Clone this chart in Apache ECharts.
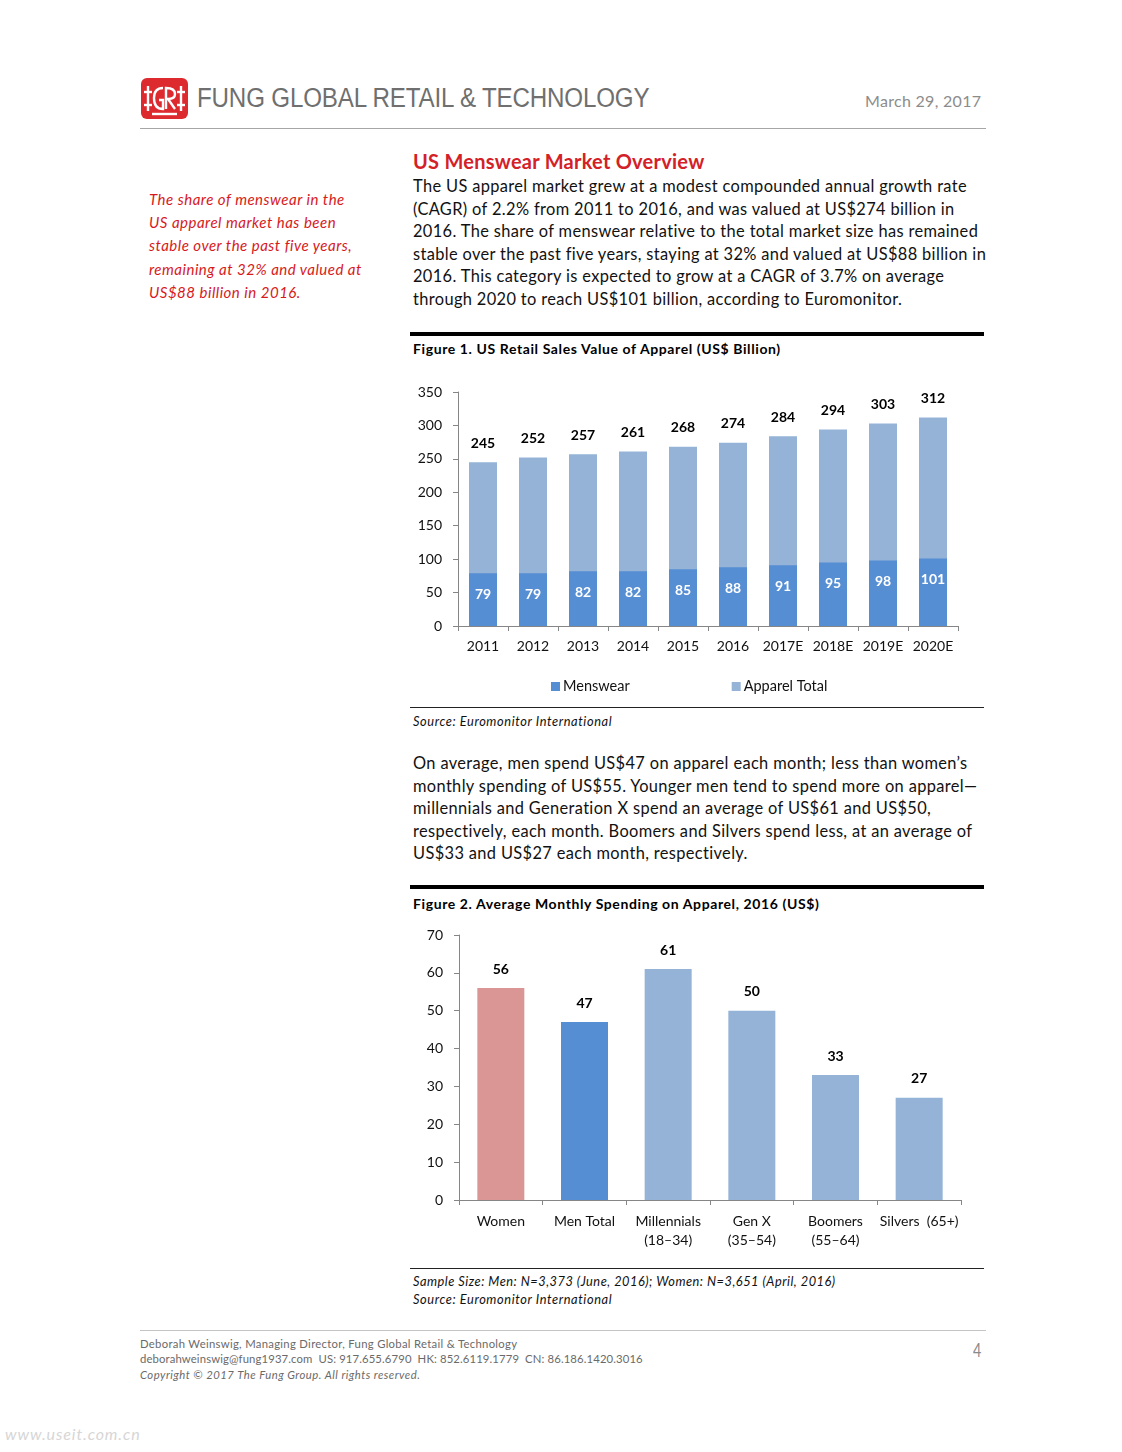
<!DOCTYPE html>
<html>
<head>
<meta charset="utf-8">
<script src="https://cdn.jsdelivr.net/npm/echarts@6/dist/echarts.min.js"></script>
<style>
  html,body{margin:0;padding:0;background:#fff;}
  body{width:1122px;height:1452px;position:relative;overflow:hidden;font-family:Lato,"Open Sans",sans-serif;color:#000;}
  .abs{position:absolute;white-space:nowrap;}
  .hdr{left:197px;top:83px;font-family:"Liberation Sans",Arial,sans-serif;font-size:27px;color:#6f6f6f;transform:scaleX(0.895);transform-origin:left top;letter-spacing:-0.2px;}
  .date{left:865px;top:91px;font-size:16px;color:#8c8c8c;letter-spacing:0.3px;}
  .rule{position:absolute;height:0;}
  .side{left:149px;top:188px;font-style:italic;font-size:15px;line-height:23.2px;color:#d7191c;letter-spacing:0.5px;}
  .h1{left:413px;top:149px;font-size:20px;font-weight:bold;color:#d42027;letter-spacing:0.25px;}
  .para{left:413px;font-size:16.4px;line-height:22.5px;color:#111;letter-spacing:0.36px;}
  .figt{left:413px;font-size:14px;font-weight:bold;color:#000;letter-spacing:0.6px;}
  .src{left:413px;font-size:12.8px;font-style:italic;color:#111;letter-spacing:0.6px;}
  .foot{left:140px;font-size:11.3px;color:#6a6a6a;}
</style>
</head>
<body>
<!-- header -->
<svg class="abs" style="left:141px;top:78px" width="47" height="41" viewBox="0 0 47 41">
  <rect x="0" y="0" width="47" height="41" rx="6" ry="6" fill="#dc2a2e"/>
  <g stroke="#fff" stroke-width="2.4" fill="none">
    <line x1="7" y1="8" x2="7" y2="33"/>
    <line x1="40" y1="8" x2="40" y2="33"/>
    <line x1="3" y1="14" x2="11" y2="14"/>
    <line x1="3" y1="27" x2="11" y2="27"/>
    <line x1="36" y1="14" x2="44" y2="14"/>
    <line x1="36" y1="27" x2="44" y2="27"/>
    <path d="M22 10 Q13 10 13 20 Q13 31 22 31 L22 22 L18 22"/>
    <path d="M25 31 L25 10 Q34 10 34 16 Q34 21 27 21 L34 31"/>
    <line x1="11" y1="36" x2="36" y2="36"/>
  </g>
</svg>
<div class="abs hdr">FUNG GLOBAL RETAIL &amp; TECHNOLOGY</div>
<div class="abs date">March 29, 2017</div>
<div class="rule" style="left:140px;top:128px;width:846px;border-top:1.5px solid #a6a6a6;"></div>

<!-- sidebar -->
<div class="abs side">The share of menswear in the<br>US apparel market has been<br>stable over the past five years,<br>remaining at 32% and valued at<br>US$88 billion in 2016.</div>

<!-- main text -->
<div class="abs h1">US Menswear Market Overview</div>
<div class="abs para" style="top:175px;">The US apparel market grew at a modest compounded annual growth rate<br>(CAGR) of 2.2% from 2011 to 2016, and was valued at US$274 billion in<br>2016. The share of menswear relative to the total market size has remained<br>stable over the past five years, staying at 32% and valued at US$88 billion in<br>2016. This category is expected to grow at a CAGR of 3.7% on average<br>through 2020 to reach US$101 billion, according to Euromonitor.</div>

<div class="rule" style="left:410px;top:332px;width:574px;border-top:4px solid #000;"></div>
<div class="abs figt" style="top:340px;">Figure 1. US Retail Sales Value of Apparel (US$ Billion)</div>
<div id="c1" class="abs" style="left:400px;top:370px;width:590px;height:330px;"></div>
<div class="rule" style="left:410px;top:707px;width:574px;border-top:1.5px solid #222;"></div>
<div class="abs src" style="top:713px;">Source: Euromonitor International</div>

<div class="abs para" style="top:752px;">On average, men spend US$47 on apparel each month; less than women’s<br>monthly spending of US$55. Younger men tend to spend more on apparel—<br>millennials and Generation X spend an average of US$61 and US$50,<br>respectively, each month. Boomers and Silvers spend less, at an average of<br>US$33 and US$27 each month, respectively.</div>

<div class="rule" style="left:410px;top:885px;width:574px;border-top:4px solid #000;"></div>
<div class="abs figt" style="top:895px;">Figure 2. Average Monthly Spending on Apparel, 2016 (US$)</div>
<div id="c2" class="abs" style="left:400px;top:915px;width:590px;height:350px;"></div>
<div class="rule" style="left:410px;top:1268px;width:574px;border-top:1.5px solid #222;"></div>
<div class="abs src" style="top:1273px;letter-spacing:0.5px;">Sample Size: Men: N=3,373 (June, 2016); Women: N=3,651 (April, 2016)</div>
<div class="abs src" style="top:1291px;">Source: Euromonitor International</div>

<!-- footer -->
<div class="rule" style="left:140px;top:1330px;width:846px;border-top:1.5px solid #c4c4c4;"></div>
<div class="abs foot" style="top:1337px;letter-spacing:0.3px;">Deborah Weinswig, Managing Director, Fung Global Retail &amp; Technology</div>
<div class="abs foot" style="top:1352px;letter-spacing:0.13px;">deborahweinswig@fung1937.com&nbsp; US: 917.655.6790&nbsp; HK: 852.6119.1779&nbsp; CN: 86.186.1420.3016</div>
<div class="abs foot" style="top:1368px;font-style:italic;letter-spacing:0.48px;">Copyright © 2017 The Fung Group. All rights reserved.</div>
<div class="abs" style="left:973px;top:1338px;font-size:19px;color:#8a8a8a;transform:scaleX(0.75);transform-origin:left top;">4</div>
<div class="abs" style="left:5px;top:1424px;font-size:16px;font-style:italic;color:#d6d6d6;letter-spacing:0.9px;">www.useit.com.cn</div>

<script>
// ---- Figure 1 data ----
var years = ['2011','2012','2013','2014','2015','2016','2017E','2018E','2019E','2020E'];
var menswear = [79, 79, 82, 82, 85, 88, 91, 95, 98, 101];
var apparelTotal = [245, 252, 257, 261, 268, 274, 284, 294, 303, 312];
var fig1Ticks = [0, 50, 100, 150, 200, 250, 300, 350];

// ---- Figure 2 data ----
var groups = ['Women', 'Men Total', 'Millennials\n(18–34)', 'Gen X\n(35–54)', 'Boomers\n(55–64)', 'Silvers  (65+)'];
var spending = [56, 47, 61, 50, 33, 27];
var fig2Ticks = [0, 10, 20, 30, 40, 50, 60, 70];

var FONT = 'Lato, "Open Sans", sans-serif';
var C_MEN = '#568ed4';
var C_TOT = '#95b3d7';
var C_WOMEN = '#d99694';
var AXIS = '#868686';

var c1 = echarts.init(document.getElementById('c1'), null, {renderer: 'canvas'});
c1.setOption({
  animation: false,
  textStyle: {fontFamily: FONT},
  grid: {left: 58, top: 22, width: 500, height: 234, containLabel: false},
  legend: {
    data: ['Menswear', 'Apparel Total'],
    left: 146, top: 304, icon: 'rect', itemWidth: 9, itemHeight: 9, itemGap: 102,
    textStyle: {fontFamily: FONT, fontSize: 14.5, color: '#111', padding: [0, 0, 0, -2]}
  },
  xAxis: {
    type: 'category', data: years,
    axisLine: {lineStyle: {color: AXIS, width: 1}},
    axisTick: {show: true, alignWithLabel: false, length: 5, lineStyle: {color: AXIS}},
    axisLabel: {fontFamily: FONT, fontSize: 14, color: '#111', margin: 13, interval: 0}
  },
  yAxis: {
    type: 'value', min: fig1Ticks[0], max: fig1Ticks[fig1Ticks.length - 1], interval: 50,
    splitLine: {show: false},
    axisLine: {show: true, lineStyle: {color: AXIS, width: 1}},
    axisTick: {show: true, length: 5, lineStyle: {color: AXIS}},
    axisLabel: {fontFamily: FONT, fontSize: 14, color: '#111', margin: 16}
  },
  series: [
    {
      name: 'Apparel Total', type: 'bar', data: apparelTotal, barWidth: 28, barGap: '-100%',
      itemStyle: {color: C_TOT},
      label: {show: true, position: 'top', distance: 12, fontFamily: FONT, fontSize: 14, fontWeight: 'bold', color: '#000'},
      z: 1
    },
    {
      name: 'Menswear', type: 'bar', data: menswear, barWidth: 28, barGap: '-100%',
      itemStyle: {color: C_MEN},
      label: {show: true, position: 'insideTop', distance: 14, fontFamily: FONT, fontSize: 14, fontWeight: 'bold', color: '#fff'},
      z: 2
    }
  ]
});

var c2 = echarts.init(document.getElementById('c2'), null, {renderer: 'canvas'});
var barColors = [C_WOMEN, C_MEN, C_TOT, C_TOT, C_TOT, C_TOT];
c2.setOption({
  animation: false,
  textStyle: {fontFamily: FONT},
  grid: {left: 59, top: 20, width: 502, height: 265, containLabel: false},
  xAxis: {
    type: 'category', data: groups,
    axisLine: {lineStyle: {color: AXIS, width: 1}},
    axisTick: {show: true, alignWithLabel: false, length: 5, lineStyle: {color: AXIS}},
    axisLabel: {fontFamily: FONT, fontSize: 14, color: '#111', margin: 12, interval: 0, lineHeight: 19}
  },
  yAxis: {
    type: 'value', min: fig2Ticks[0], max: fig2Ticks[fig2Ticks.length - 1], interval: 10,
    splitLine: {show: false},
    axisLine: {show: true, lineStyle: {color: AXIS, width: 1}},
    axisTick: {show: true, length: 5, lineStyle: {color: AXIS}},
    axisLabel: {fontFamily: FONT, fontSize: 14, color: '#111', margin: 16}
  },
  series: [{
    type: 'bar', barWidth: 47,
    data: spending.map(function (v, i) { return {value: v, itemStyle: {color: barColors[i]}}; }),
    label: {show: true, position: 'top', distance: 12, fontFamily: FONT, fontSize: 14, fontWeight: 'bold', color: '#000'}
  }]
});
</script>
</body>
</html>
